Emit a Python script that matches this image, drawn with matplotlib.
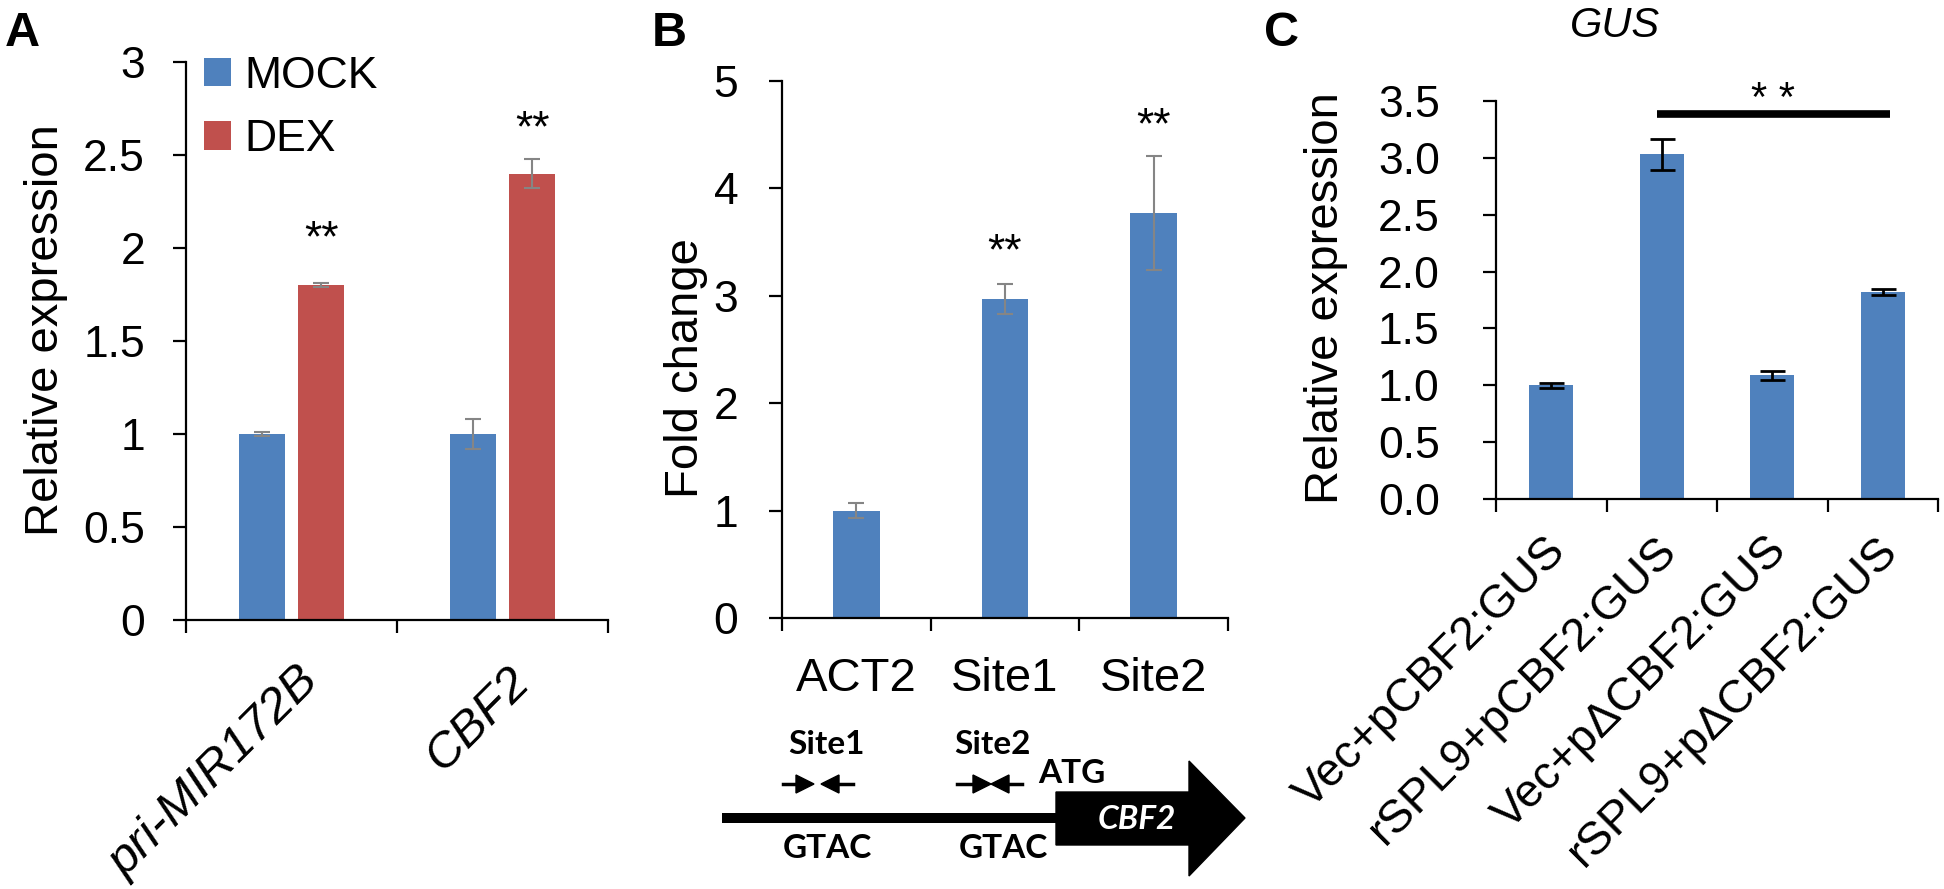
import matplotlib
matplotlib.use('Agg')
import matplotlib.pyplot as plt
from matplotlib.patches import Polygon
from matplotlib.transforms import blended_transform_factory, offset_copy
import numpy as np

W, H, DPI = 1944, 889, 100

# ---------------- data ----------------
a_categories = ['pri-MIR172B', 'CBF2']
a_series = ['MOCK', 'DEX']
a_mock = [1.00, 1.00]
a_mock_err = [0.01, 0.08]
a_dex = [1.80, 2.40]
a_dex_err = [0.01, 0.08]
a_yticks = [0, 0.5, 1, 1.5, 2, 2.5, 3]
a_ytick_labels = ['0', '0.5', '1', '1.5', '2', '2.5', '3']

b_categories = ['ACT2', 'Site1', 'Site2']
b_values = [1.00, 2.97, 3.77]
b_err = [0.07, 0.14, 0.53]
b_yticks = [0, 1, 2, 3, 4, 5]

c_categories = ['Vec+pCBF2:GUS', 'rSPL9+pCBF2:GUS', 'Vec+p\u0394CBF2:GUS', 'rSPL9+p\u0394CBF2:GUS']
c_values = [1.00, 3.03, 1.09, 1.82]
c_err = [0.02, 0.14, 0.04, 0.03]
c_yticks = [0.0, 0.5, 1.0, 1.5, 2.0, 2.5, 3.0, 3.5]

BLUE = '#4F81BD'
RED = '#C0504D'
GREY = '#858585'

plt.rcParams['font.family'] = ['Liberation Sans', 'DejaVu Sans']

fig = plt.figure(figsize=(W / DPI, H / DPI), dpi=DPI)


def px_axes(left, right, top, bottom):
    return fig.add_axes([left / W, 1 - bottom / H, (right - left) / W, (bottom - top) / H])


def style(ax, ypad, ncat):
    for s in ['top', 'right']:
        ax.spines[s].set_visible(False)
    for s in ['left', 'bottom']:
        ax.spines[s].set_linewidth(1.6)
        ax.spines[s].set_color('black')
    ax.tick_params(axis='y', length=9.5, width=1.6, pad=ypad, labelsize=32)
    ax.set_xlim(-0.5, ncat - 0.5)
    ax.set_xticks(np.arange(-0.5, ncat, 1.0), minor=True)
    ax.tick_params(axis='x', which='minor', length=9.5, width=1.6, direction='out')
    ax.tick_params(axis='x', which='major', length=0)


def rotated_labels(ax, labels, dx, dy, size, italic=False):
    tr = blended_transform_factory(ax.transData, ax.transAxes)
    t = offset_copy(tr, fig=fig, x=dx, y=-dy, units='dots')
    for i, lab in enumerate(labels):
        ax.text(i, 0, lab, transform=t, rotation=45, ha='right', va='center',
                rotation_mode='anchor', fontsize=size,
                style='italic' if italic else 'normal')


def stars(ax, x, y, txt='**', size=32):
    t = offset_copy(ax.transData, fig=fig, x=0, y=-24, units='dots')
    ax.text(x, y, txt, transform=t, ha='center', va='baseline', fontsize=size)


# ---------------- panel A ----------------
axA = px_axes(186, 608, 62, 620)
style(axA, 20, len(a_categories))
xa = np.arange(len(a_categories))
bw_a = 0.218
off = 0.141
bm = axA.bar(xa - off, a_mock, bw_a, color=BLUE, label=a_series[0], zorder=2)
bd = axA.bar(xa + off, a_dex, bw_a, color=RED, label=a_series[1], zorder=2)
axA.errorbar(xa - off, a_mock, yerr=a_mock_err, fmt='none', ecolor=GREY,
             elinewidth=1.5, capsize=6, capthick=1.5, zorder=3)
axA.errorbar(xa + off, a_dex, yerr=a_dex_err, fmt='none', ecolor=GREY,
             elinewidth=1.5, capsize=6, capthick=1.5, zorder=3)
axA.set_ylim(0, 3)
axA.set_yticks(a_yticks)
axA.set_yticklabels(a_ytick_labels)
axA.set_xticks(xa)
axA.set_xticklabels([])
rotated_labels(axA, a_categories, 20, 55, 35.5, italic=True)
stars(axA, xa[0] + off, 2.11)
stars(axA, xa[1] + off, 2.70)
leg = axA.legend(handles=[bm, bd], labels=a_series, loc='upper left',
                 bbox_to_anchor=(204 / W, 1 - 56 / H), bbox_transform=fig.transFigure,
                 frameon=False, fontsize=32, handlelength=0.6, handleheight=0.6,
                 handletextpad=0.3, labelspacing=0.5, borderpad=0, borderaxespad=0)
fig.text(46 / W, 1 - 330 / H, 'Relative expression', rotation=90, ha='center',
         va='center', fontsize=34)

# ---------------- panel B ----------------
axB = px_axes(782, 1228, 81, 618)
style(axB, 22, len(b_categories))
xb = np.arange(len(b_categories))
axB.bar(xb, b_values, 0.315, color=BLUE, zorder=2)
axB.errorbar(xb, b_values, yerr=b_err, fmt='none', ecolor=GREY,
             elinewidth=1.5, capsize=6, capthick=1.5, zorder=3)
axB.set_ylim(0, 5)
axB.set_yticks(b_yticks)
axB.set_xticks(xb)
axB.set_xticklabels(b_categories, fontsize=34)
axB.tick_params(axis='x', which='major', pad=28)
stars(axB, xb[1], 3.52)
stars(axB, xb[2], 4.69)
fig.text(686 / W, 1 - 368 / H, 'Fold change', rotation=90, ha='center',
         va='center', fontsize=34)

# ---------------- panel C ----------------
axC = px_axes(1496, 1938, 101, 499)
style(axC, 31, len(c_categories))
xc = np.arange(len(c_categories))
axC.bar(xc, c_values, 0.4, color=BLUE, zorder=2)
axC.errorbar(xc, c_values, yerr=c_err, fmt='none', ecolor='black',
             elinewidth=2.0, capsize=9, capthick=2.0, zorder=3)
axC.set_ylim(0, 3.5)
axC.set_yticks(c_yticks)
axC.set_yticklabels([f'{v:.1f}' for v in c_yticks])
axC.set_xticks(xc)
axC.set_xticklabels([])
rotated_labels(axC, c_categories, 8, 45, 33.5)
axC.plot([0.96, 3.07], [3.39, 3.39], color='black', lw=5.5, solid_capstyle='butt',
         clip_on=False, zorder=3)
stars(axC, 2.01, 3.62, txt='* *', size=30)
fig.text(1326 / W, 1 - 298 / H, 'Relative expression', rotation=90, ha='center',
         va='center', fontsize=34)
fig.text(1615 / W, 1 - 37 / H, 'GUS', ha='center', va='baseline', fontsize=30,
         style='italic')

# ---------------- panel letters ----------------
for letter, x in [('A', 5), ('B', 652), ('C', 1264)]:
    fig.text(x / W, 1 - 46 / H, letter, ha='left', va='baseline', fontsize=35,
             fontweight='bold')

# ---------------- promoter diagram (pixel overlay) ----------------
ov = fig.add_axes([0, 0, 1, 1])
ov.set_xlim(0, W)
ov.set_ylim(H, 0)
ov.set_axis_off()
ov.patch.set_visible(False)

ov.plot([722, 1057], [818, 818], color='black', lw=7.2, solid_capstyle='butt')
ov.add_patch(Polygon([(1056, 792), (1189, 792), (1189, 761), (1245, 818),
                      (1189, 876), (1189, 845), (1056, 845)], closed=True,
                     facecolor='black', edgecolor='black'))


def primer(x0, x1, y, direction):
    # shaft + triangular head
    if direction > 0:
        ov.plot([x0, x1 - 14], [y, y], color='black', lw=2.5)
        ov.add_patch(Polygon([(x1 - 18, y - 9), (x1, y), (x1 - 18, y + 9)],
                             closed=True, facecolor='black', edgecolor='black'))
    else:
        ov.plot([x0 + 14, x1], [y, y], color='black', lw=2.5)
        ov.add_patch(Polygon([(x0 + 18, y - 9), (x0, y), (x0 + 18, y + 9)],
                             closed=True, facecolor='black', edgecolor='black'))


primer(783, 814, 784, 1)
primer(821, 853, 784, -1)
primer(957, 991, 784, 1)
primer(991, 1022, 784, -1)

dfont = ['Lato', 'DejaVu Sans']
ov.text(826, 754, 'Site1', ha='center', va='baseline', fontsize=24,
        fontweight='bold', family=dfont)
ov.text(992, 754, 'Site2', ha='center', va='baseline', fontsize=24,
        fontweight='bold', family=dfont)
ov.text(1072, 783, 'ATG', ha='center', va='baseline', fontsize=24,
        fontweight='bold', family=dfont)
ov.text(827, 858, 'GTAC', ha='center', va='baseline', fontsize=24,
        fontweight='bold', family=dfont)
ov.text(1003, 858, 'GTAC', ha='center', va='baseline', fontsize=24,
        fontweight='bold', family=dfont)
ov.text(1137, 829, 'CBF2', ha='center', va='baseline', fontsize=24,
        fontweight='bold', style='italic', color='white', family=dfont)

fig.savefig('out.png', dpi=DPI, facecolor='white')
